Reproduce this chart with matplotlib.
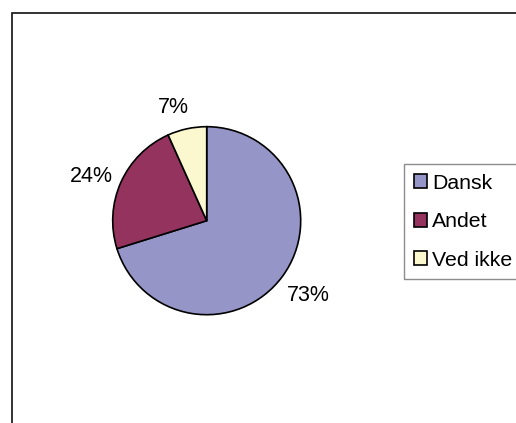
import matplotlib
matplotlib.use("Agg")
import matplotlib.pyplot as plt
from matplotlib.patches import Rectangle
import numpy as np

categories = ["Dansk", "Andet", "Ved ikke"]
values = [73, 24, 7]
colors = ["#9595C8", "#95335F", "#FBF7CF"]
label_dist = [1.326, 1.326, 1.279]
label_angle_shift = [0.7, 2.4, 4.2]

plt.rcParams['font.family'] = ['Liberation Sans', 'DejaVu Sans']

W, H = 516, 423
fig = plt.figure(figsize=(W / 100, H / 100), dpi=100)
fig.patch.set_facecolor("white")

# chart border (extends past right and bottom edge)
fig.patches.append(Rectangle((11.5 / W, -0.1), 1.2, 1 - 13 / H + 0.1,
                             transform=fig.transFigure, fill=False,
                             edgecolor="#222222", linewidth=1.3))

cx, cy, r = 206.7, 220.7, 94
ax = fig.add_axes([(cx - r) / W, (H - cy - r) / H, 2 * r / W, 2 * r / H])
total = sum(values)
wedges, texts, autotexts = ax.pie(
    values, colors=colors, startangle=90, counterclock=False,
    wedgeprops=dict(edgecolor="black", linewidth=1.2),
    autopct=lambda p: f"{p * total / 100:.0f}%", pctdistance=1.32,
    textprops=dict(fontsize=15.5, color="black"))
for w, t, d, s in zip(wedges, autotexts, label_dist, label_angle_shift):
    ang = np.deg2rad((w.theta1 + w.theta2) / 2 + s)
    t.set_position((d * np.cos(ang), d * np.sin(ang) - 0.022))
ax.set_xlim(-1, 1)
ax.set_ylim(-1, 1)
ax.set_aspect("equal")

leg = fig.legend(wedges, categories, loc="upper left",
                 bbox_to_anchor=(404 / W, 1 - 164 / H),
                 fontsize=15.3, frameon=True, fancybox=False,
                 handlelength=0.62, handleheight=0.62, handletextpad=0.25,
                 labelspacing=0.92, borderpad=0.45, borderaxespad=0)
leg.get_frame().set_edgecolor("#707070")
leg.get_frame().set_linewidth(1.0)

fig.savefig("out.png", dpi=100)
